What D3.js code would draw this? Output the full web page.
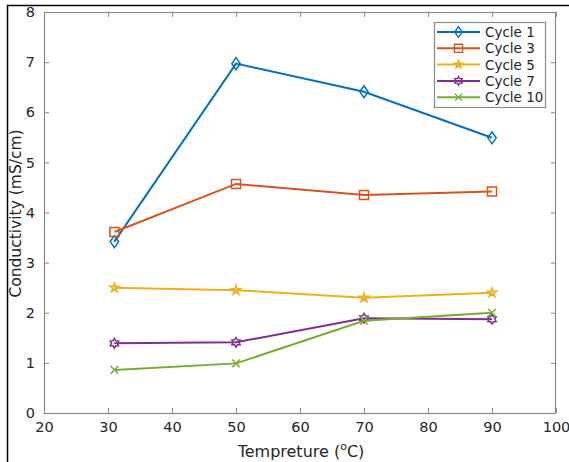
<!DOCTYPE html>
<html>
<head>
<meta charset="utf-8">
<script src="https://cdnjs.cloudflare.com/ajax/libs/d3/7.8.5/d3.min.js"></script>
<style>
  body { margin: 0; background: #fff; }
  text { font-family: "DejaVu Sans", sans-serif; fill: #262626; }
</style>
</head>
<body>
<div id="chart"></div>
<script>
var temps = [31, 50, 70, 90];
var cycleNames = ['Cycle 1', 'Cycle 3', 'Cycle 5', 'Cycle 7', 'Cycle 10'];
var cycle1 = [3.42, 6.97, 6.41, 5.49];
var cycle3 = [3.61, 4.57, 4.35, 4.42];
var cycle5 = [2.50, 2.45, 2.30, 2.40];
var cycle7 = [1.39, 1.41, 1.89, 1.87];
var cycle10 = [0.86, 0.99, 1.84, 2.00];
var xTicks = [20, 30, 40, 50, 60, 70, 80, 90, 100];
var yTicks = [0, 1, 2, 3, 4, 5, 6, 7, 8];

var colours = ['#0072BD', '#D95319', '#EDB120', '#7E2F8E', '#77AC30'];
var markers = ['diamond', 'square', 'star', 'hexagram', 'cross'];
var series = [cycle1, cycle3, cycle5, cycle7, cycle10];

var width = 569, height = 462;
var plot = {left: 44, top: 12, right: 556, bottom: 413};

var svg = d3.select('#chart')
  .append('svg')
  .attr('width', width)
  .attr('height', height);

//outer frame (only left and top visible)
svg.append('path')
  .attr('d', 'M7.5,462 V5.5 H569')
  .attr('fill', 'none')
  .attr('stroke', '#000')
  .attr('stroke-width', 1.5);

var x = d3.scaleLinear().domain([20, 100]).range([plot.left, plot.right]);
var y = d3.scaleLinear().domain([0, 8]).range([plot.bottom, plot.top]);

//axes
var tickLen = 5;
var bottomAxis = d3.axisBottom(x).tickValues(xTicks).tickSize(-tickLen).tickPadding(9);
var topAxis = d3.axisTop(x).tickValues(xTicks).tickSize(-tickLen).tickFormat('');
var leftAxis = d3.axisLeft(y).tickValues(yTicks).tickSize(-tickLen).tickPadding(9);
var rightAxis = d3.axisRight(y).tickValues(yTicks).tickSize(-tickLen).tickFormat('');

function styleAxis(g) {
  g.select('.domain').remove();
  g.selectAll('line').attr('stroke', '#8a8a8a');
  g.selectAll('text').attr('font-size', '14.5px').attr('fill', '#262626')
    .attr('font-family', '"DejaVu Sans", sans-serif');
}

svg.append('g').attr('transform', 'translate(0,' + plot.bottom + ')').call(bottomAxis).call(styleAxis);
svg.append('g').attr('transform', 'translate(0,' + plot.top + ')').call(topAxis).call(styleAxis);
svg.append('g').attr('transform', 'translate(' + plot.left + ',0)').call(leftAxis).call(styleAxis);
svg.append('g').attr('transform', 'translate(' + plot.right + ',0)').call(rightAxis).call(styleAxis);

//box
svg.append('rect')
  .attr('x', plot.left + 0.5)
  .attr('y', plot.top + 0.5)
  .attr('width', plot.right - plot.left - 1)
  .attr('height', plot.bottom - plot.top)
  .attr('fill', 'none')
  .attr('stroke', '#8a8a8a')
  .attr('stroke-width', 1.2);

//axis labels
svg.append('text')
  .attr('transform', 'translate(21,' + ((plot.top + plot.bottom) / 2 + 1) + ') rotate(-90)')
  .attr('text-anchor', 'middle')
  .attr('font-size', '15.5px')
  .text('Conductivity (mS/cm)');

var xl = svg.append('text')
  .attr('x', (plot.left + plot.right) / 2 + 1)
  .attr('y', 457)
  .attr('text-anchor', 'middle')
  .attr('font-size', '16px');
xl.append('tspan').text('Tempreture (');
xl.append('tspan').attr('font-size', '11px').attr('dy', -7).text('o');
xl.append('tspan').attr('dy', 7).text('C)');

//marker shapes
function hexagram(r) {
  var pts = [];
  for (var i = 0; i < 12; i++) {
    var a = Math.PI / 6 * i - Math.PI / 2;
    var rr = i % 2 === 0 ? r : r * 0.6;
    pts.push([rr * Math.cos(a), rr * Math.sin(a)]);
  }
  return 'M' + pts.join('L') + 'Z';
}

function markerPath(type) {
  if (type === 'diamond') return 'M0,-6L4.2,0L0,6L-4.2,0Z';
  if (type === 'square') return 'M-4.5,-4.5H4.5V4.5H-4.5Z';
  if (type === 'star') return d3.symbol(d3.symbolStar, 26)();
  if (type === 'hexagram') return hexagram(4.8);
  return 'M-3.8,-3.8L3.8,3.8M-3.8,3.8L3.8,-3.8';
}

var line = d3.line()
  .x(function(d, i) { return x(temps[i]); })
  .y(function(d) { return y(d); });

series.forEach(function(vals, s) {
  var g = svg.append('g');
  g.append('path')
    .attr('d', line(vals))
    .attr('fill', 'none')
    .attr('stroke', colours[s])
    .attr('stroke-width', 2);
  g.selectAll('.mk')
    .data(vals)
    .enter()
    .append('path')
    .attr('transform', function(d, i) { return 'translate(' + x(temps[i]) + ',' + y(d) + ')'; })
    .attr('d', markerPath(markers[s]))
    .attr('fill', markers[s] === 'star' ? colours[s] : 'none')
    .attr('fill-opacity', markers[s] === 'star' ? 0.4 : 1)
    .attr('stroke', colours[s])
    .attr('stroke-width', 1.5);
});

//legend
var legend = svg.append('g');
legend.append('rect')
  .attr('x', 434.5)
  .attr('y', 22.5)
  .attr('width', 111)
  .attr('height', 85)
  .attr('fill', '#fff')
  .attr('stroke', '#8a8a8a')
  .attr('stroke-width', 1.2);

cycleNames.forEach(function(name, s) {
  var ly = 32 + s * 16.3;
  legend.append('line')
    .attr('x1', 437).attr('x2', 480)
    .attr('y1', ly).attr('y2', ly)
    .attr('stroke', colours[s])
    .attr('stroke-width', 2);
  legend.append('path')
    .attr('transform', 'translate(458.5,' + ly + ') scale(0.9)')
    .attr('d', markerPath(markers[s]))
    .attr('fill', markers[s] === 'star' ? colours[s] : 'none')
    .attr('stroke', colours[s])
    .attr('stroke-width', 1.5);
  legend.append('text')
    .attr('x', 485)
    .attr('y', ly + 5)
    .attr('font-size', '13.5px')
    .text(name);
});
</script>
</body>
</html>
